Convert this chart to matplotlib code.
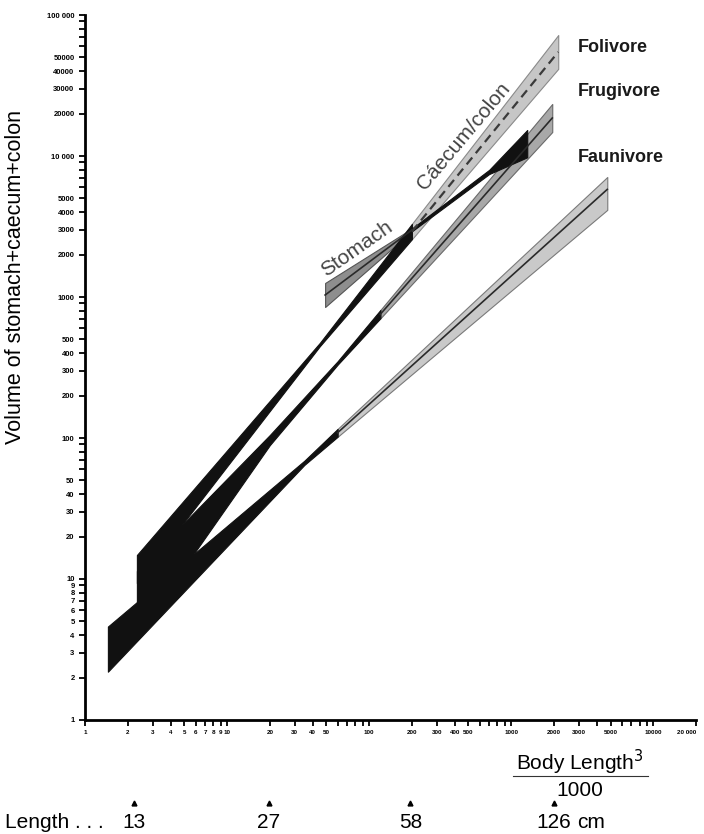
import matplotlib
matplotlib.use('Agg')
import matplotlib.pyplot as plt
from matplotlib.lines import Line2D
from matplotlib.ticker import FixedLocator, FixedFormatter, NullFormatter

plt.rcParams['font.family'] = ['Liberation Sans', 'DejaVu Sans']

# Band outlines: x = body length^3/1000, y = gut volume.
# Each band has x points with lower and upper edges; the lower-left part is black.
fol_x = [2.32, 45, 200, 2143]
fol_lo = [9.35, 448, 2570, 41500]
fol_hi = [14.8, 473, 3300, 72100]
fol_mid_x = [200, 2143]
fol_mid = [2910, 54700]

fru_x = [2.32, 20, 60, 120, 1945]
fru_lo = [4.0, 89, 331, 706, 14800]
fru_hi = [11.4, 105, 350, 809, 23400]
fru_mid_x = [120, 1945]
fru_mid = [755, 18600]

fau_x = [1.45, 35, 60, 4745]
fau_lo = [2.2, 64.4, 102, 4150]
fau_hi = [4.6, 69.0, 116, 7100]
fau_mid_x = [60, 4745]
fau_mid = [109, 5800]

sto_x = [49, 200, 700, 1297]
sto_lo = [849, 2924, 7450, 9800]
sto_hi = [1257, 3062, 7980, 15300]
sto_mid = [1033, 2990]

# axis ticks
x_major = [1, 2, 3, 4, 5, 6, 7, 8, 9, 10, 20, 30, 40, 50, 100, 200, 300, 400, 500,
           1000, 2000, 3000, 5000, 10000, 20000]
x_labels = ['1', '2', '3', '4', '5', '6', '7', '8', '9', '10', '20', '30', '40', '50',
            '100', '200', '300', '400', '500', '1000', '2000', '3000', '5000', '10000', '20 000']
x_minor = [60, 70, 80, 90, 600, 700, 800, 900, 4000, 6000, 7000, 8000, 9000]

y_major = [1, 2, 3, 4, 5, 6, 7, 8, 9, 10, 20, 30, 40, 50, 100, 200, 300, 400, 500,
           1000, 2000, 3000, 4000, 5000, 10000, 20000, 30000, 40000, 50000, 100000]
y_labels = ['1', '2', '3', '4', '5', '6', '7', '8', '9', '10', '20', '30', '40', '50',
            '100', '200', '300', '400', '500', '1000', '2000', '3000', '4000', '5000',
            '10 000', '20000', '30000', '40000', '50000', '100 000']
y_minor = [60, 70, 80, 90, 600, 700, 800, 900, 6000, 7000, 8000, 9000,
           60000, 70000, 80000, 90000]

# body lengths (cm) marked under the axis
lengths = [13, 27, 58, 126]

fig = plt.figure(figsize=(7.04, 8.34), dpi=100)
ax = fig.add_axes([0.1207, 0.1367, 0.868, 0.8453])
ax.set_xscale('log')
ax.set_yscale('log')
ax.set_xlim(1, 20000)
ax.set_ylim(1, 100000)


def band(xs, lo, hi, color, z, edge=None):
    ax.fill_between(xs, lo, hi, facecolor=color, edgecolor=edge or color,
                    lw=0.8, zorder=z)


# grey (upper) parts
band(fol_x[2:], fol_lo[2:], fol_hi[2:], '#c6c6c6', 2, '#8a8a8a')
band(fru_x[3:], fru_lo[3:], fru_hi[3:], '#a8a8a8', 2, '#6a6a6a')
band(fau_x[2:], fau_lo[2:], fau_hi[2:], '#c9c9c9', 2, '#7a7a7a')
band(sto_x[:2], sto_lo[:2], sto_hi[:2], '#8e8e8e', 3, '#555555')

# black (lower) parts
band(fol_x[:3], fol_lo[:3], fol_hi[:3], '#111111', 4)
band(fru_x[:4], fru_lo[:4], fru_hi[:4], '#111111', 4)
band(fau_x[:3], fau_lo[:3], fau_hi[:3], '#111111', 4)
band(sto_x[1:], sto_lo[1:], sto_hi[1:], '#111111', 4)

# centre lines
ax.plot(fol_mid_x, fol_mid, color='#3a3a3a', lw=1.6, dashes=(4, 2.5), zorder=5)
ax.plot(fru_mid_x, fru_mid, color='#2a2a2a', lw=1.2, zorder=5)
ax.plot(fau_mid_x, fau_mid, color='#2a2a2a', lw=1.2, zorder=5)
ax.plot(sto_x[:2], sto_mid, color='#2a2a2a', lw=1.2, zorder=5)

# axes look
for s in ['top', 'right']:
    ax.spines[s].set_visible(False)
for s in ['left', 'bottom']:
    ax.spines[s].set_linewidth(2)

ax.xaxis.set_major_locator(FixedLocator(x_major))
ax.xaxis.set_major_formatter(FixedFormatter(x_labels))
ax.xaxis.set_minor_locator(FixedLocator(x_minor))
ax.xaxis.set_minor_formatter(NullFormatter())
ax.yaxis.set_major_locator(FixedLocator(y_major))
ax.yaxis.set_major_formatter(FixedFormatter(y_labels))
ax.yaxis.set_minor_locator(FixedLocator(y_minor))
ax.yaxis.set_minor_formatter(NullFormatter())

ax.tick_params(axis='both', which='both', direction='out', length=4.5, width=1.3)
ax.tick_params(axis='x', which='major', labelsize=4.5, pad=3)
ax.tick_params(axis='y', which='major', labelsize=5.5, pad=3)
for lab in ax.get_xticklabels() + ax.get_yticklabels():
    lab.set_fontweight('bold')
ax.get_xticklabels()[-1].set_horizontalalignment('right')

# band labels
for name, ypx in [('Folivore', 47), ('Frugivore', 92), ('Faunivore', 157)]:
    fig.text(578 / 704, 1 - ypx / 834, name, fontsize=13, fontweight='bold',
             va='center', color='#1a1a1a')
fig.text(357 / 704, 1 - 249 / 834, 'Stomach', fontsize=15, rotation=35,
         ha='center', va='center', color='#444444')
fig.text(464 / 704, 1 - 136 / 834, 'Cáecum/colon', fontsize=15, rotation=50,
         ha='center', va='center', color='#444444')

fig.text(0.022, 0.668, 'Volume of stomach+caecum+colon', rotation=90,
         ha='center', va='center', fontsize=15.5)

# x axis caption as a fraction
fig.text(580 / 704, 1 - 762 / 834, 'Body Length$^3$', ha='center', va='center',
         fontsize=15)
fig.add_artist(Line2D([513 / 704, 648 / 704], [1 - 776 / 834] * 2, color='#333333', lw=0.8))
fig.text(580 / 704, 1 - 791 / 834, '1000', ha='center', va='center', fontsize=15)

# body length markers
trans = ax.get_xaxis_transform()
fig.text(5 / 704, 1 - 822 / 834, 'Length . . .', va='center', fontsize=15)
for L in lengths:
    xv = L ** 3 / 1000
    ax.plot([xv], [-0.118], marker='^', ms=3.5, color='k', transform=trans, clip_on=False)
    ax.text(xv, -0.145, str(L), transform=trans, ha='center', va='center', fontsize=15)
ax.annotate('cm', xy=(lengths[-1] ** 3 / 1000, -0.145), xycoords=trans,
            xytext=(23, 0), textcoords='offset pixels', ha='left', va='center', fontsize=15)

fig.savefig('out.png', dpi=100)
